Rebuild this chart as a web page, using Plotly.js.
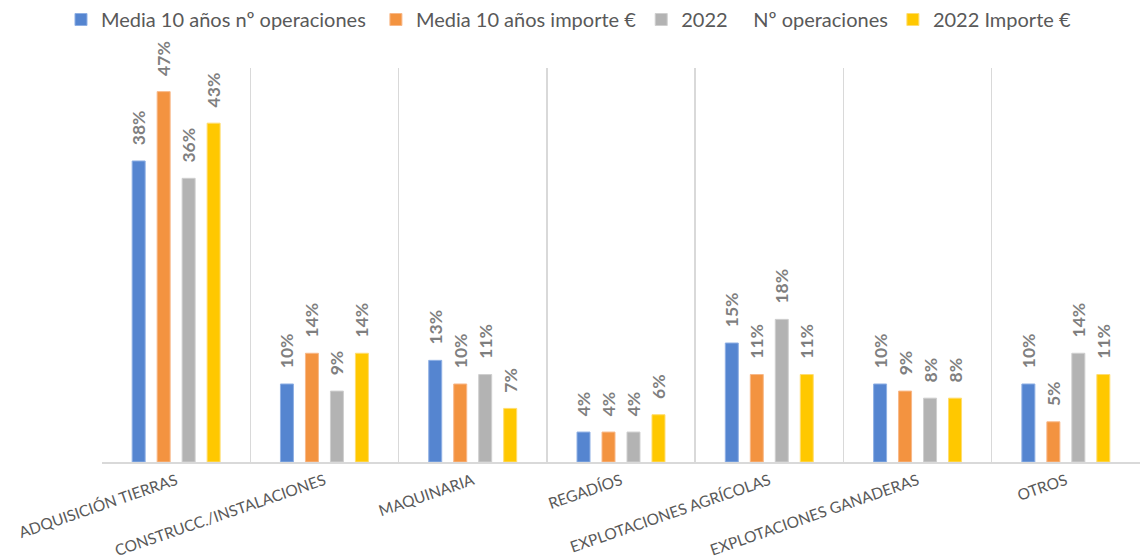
<!DOCTYPE html>
<html>
<head>
<meta charset="utf-8">
<script src="https://cdn.plot.ly/plotly-3.0.1.min.js"></script>
<style>html,body{margin:0;padding:0;background:#fff;}#chart{width:1140px;height:560px;}</style>
</head>
<body>
<div id="chart"></div>
<script>
const categories = ["ADQUISICIÓN TIERRAS", "CONSTRUCC./INSTALACIONES", "MAQUINARIA", "REGADÍOS", "EXPLOTACIONES AGRÍCOLAS", "EXPLOTACIONES GANADERAS", "OTROS"];
const seriesNames = ["Media 10 años nº operaciones", "Media 10 años importe €", "2022     Nº operaciones", "2022 Importe €"];
const media10Operaciones = [0.382, 0.099, 0.129, 0.038, 0.151, 0.099, 0.099];
const media10Importe     = [0.470, 0.138, 0.099, 0.038, 0.111, 0.090, 0.051];
const op2022             = [0.360, 0.090, 0.111, 0.038, 0.181, 0.081, 0.138];
const importe2022        = [0.430, 0.138, 0.068, 0.060, 0.111, 0.081, 0.111];
const seriesValues = [media10Operaciones, media10Importe, op2022, importe2022];
const colors = ["#5585D0", "#F39340", "#B3B3B3", "#FFC800"];
const lineColors = ["#8FB0E4", "#F8B888", "#CFCFCF", "#FFDD70"];
const legendTrail = [1, 0, 0, 0];

const nb = n => "\u00a0".repeat(n);
const pad = nb(3);
const traces = seriesValues.map((vals, i) => ({
  type: "bar",
  name: seriesNames[i].replace(/ {2,}/g, m => nb(m.length)) + nb(legendTrail[i]),
  x: categories,
  y: vals,
  marker: {color: colors[i], line: {color: lineColors[i], width: 1}},
  text: vals.map(v => pad + Math.round(v * 100) + "%"),
  textposition: "outside",
  textangle: -90,
  constraintext: "none",
  cliponaxis: false,
  textfont: {family: "Lato, 'Open Sans', sans-serif", size: 17.5, color: "#7F7F7F", weight: "bold"},
  hoverinfo: "x+y"
}));

const layout = {
  width: 1140, height: 560,
  margin: {l: 102, r: 0, t: 68, b: 98},
  paper_bgcolor: "#ffffff", plot_bgcolor: "#ffffff",
  barmode: "group",
  bargap: 0.326,
  bargroupgap: 0.48,
  font: {family: "Lato, 'Open Sans', sans-serif", color: "#595959"},
  showlegend: true,
  legend: {
    orientation: "h",
    xref: "container", x: 0.0535, xanchor: "left",
    yref: "container", y: 1.0, yanchor: "top",
    font: {size: 20, color: "#595959"},
    traceorder: "normal",
    bgcolor: "rgba(0,0,0,0)"
  },
  xaxis: {
    type: "category",
    tickson: "boundaries",
    showgrid: true, gridcolor: "#D9D9D9", gridwidth: 1.5,
    showline: true, linecolor: "#D9D9D9", linewidth: 2,
    ticks: "", tickangle: -19,
    tickfont: {size: 15.5, color: "#595959"},
    ticklabelstandoff: 2,
    fixedrange: true
  },
  yaxis: {
    range: [0, 0.5],
    showgrid: false, zeroline: false, showline: false,
    showticklabels: false, ticks: "",
    fixedrange: true
  }
};
Plotly.newPlot("chart", traces, layout, {displayModeBar: false, staticPlot: true});
</script>
</body>
</html>
